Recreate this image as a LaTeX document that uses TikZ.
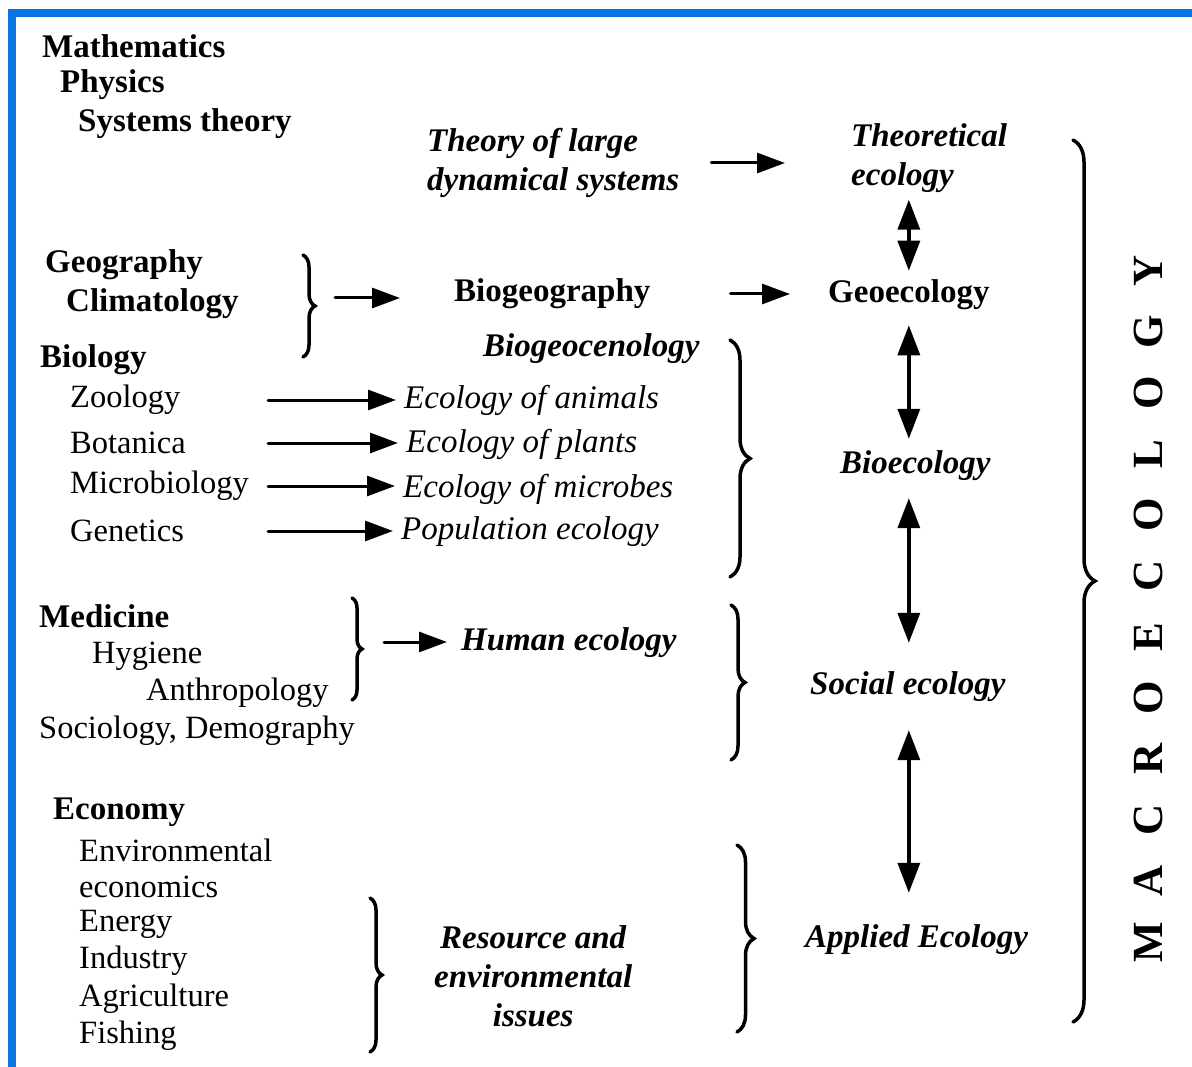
\documentclass[tikz,border=0pt]{standalone}
\usepackage{fontspec}
\setmainfont{Liberation Serif}
\usetikzlibrary{arrows.meta,decorations.pathreplacing}
\definecolor{frameblue}{RGB}{10,118,228}

\begin{document}
\begin{tikzpicture}[x=1pt,y=-1pt,line cap=round,
  every node/.style={inner sep=0pt,anchor=west},
  field/.style={yshift=-3pt,font=\fontsize{32.5}{39}\selectfont},
  science/.style={yshift=-3pt,font=\fontsize{33}{39}\selectfont\bfseries},
  branch/.style={yshift=-3pt,font=\fontsize{33}{39}\selectfont\itshape},
  level/.style={yshift=-3pt,font=\fontsize{33}{39}\selectfont\bfseries\itshape},
  arr/.style={line width=3pt,-{Triangle[length=28pt,width=20pt]}},
  darr/.style={line width=3.5pt,{Triangle[length=30pt,width=22pt]}-{Triangle[length=30pt,width=22pt]}},
  brc/.style={line width=3.5pt,decorate,decoration={brace,amplitude=#1}}]
  \useasboundingbox (0,0) rectangle (1192,1067);
  % frame
  \fill[frameblue] (8,9) rectangle (1192,17);
  \fill[frameblue] (8,9) rectangle (16,1067);

  % basic sciences, left column
  \node[science] (math) at (42,43) {Mathematics};
  \node[science] (phys) at (60,82) {Physics};
  \node[science] (sys) at (78,121) {Systems theory};
  \node[science] (geog) at (45,262) {Geography};
  \node[science] (clim) at (66,301) {Climatology};
  \node[science] (biol) at (40,357) {Biology};
  \node[field] (zoo) at (70,397) {Zoology};
  \node[field] (bot) at (70,440) {Botanica};
  \node[field] (micro) at (70,483) {Microbiology};
  \node[field] (gen) at (70,528) {Genetics};
  \node[science] (med) at (39,613) {Medicine};
  \node[field] (hyg) at (92,653) {Hygiene};
  \node[field] (anth) at (146,690) {Anthropology};
  \node[field] (soc) at (39,728) {Sociology, Demography};
  \node[science] (econ) at (53,809) {Economy};
  \node[field] (env) at (79,847) {Environmental};
  \node[field] (econs) at (79,884) {economics};
  \node[field] (energy) at (79,921) {Energy};
  \node[field] (ind) at (79,958) {Industry};
  \node[field] (agri) at (79,996) {Agriculture};
  \node[field] (fish) at (79,1033) {Fishing};

  % middle column
  \node[level,align=left] (theory) at (427,160) {Theory of large\\dynamical systems};
  \node[science] (biogeog) at (454,291) {Biogeography};
  \node[level] (biogeoc) at (483,346) {Biogeocenology};
  \node[branch] (ecanim) at (404,397) {Ecology of animals};
  \node[branch] (ecplant) at (406,441) {Ecology of plants};
  \node[branch] (ecmicro) at (403,486) {Ecology of microbes};
  \node[branch] (popeco) at (401,529) {Population ecology};
  \node[level] (human) at (461,640) {Human ecology};
  \node[level,align=center] (resource) at (434,973) {Resource and\\environmental\\issues};

  % right column
  \node[level,align=left] (theo) at (851,155) {Theoretical\\ecology};
  \node[science] (geoeco) at (828,292) {Geoecology};
  \node[level] (bioeco) at (840,463) {Bioecology};
  \node[level] (social) at (810,684) {Social ecology};
  \node[level] (applied) at (805,937) {Applied Ecology};

  % braces
  \draw[brc=12pt] (303,255) -- (303,357);
  \coordinate (geotip) at (318,298);
  \draw[brc=20pt] (730,340) -- (730,577);
  \draw[brc=10pt] (352,598) -- (352,700);
  \coordinate (medtip) at (362,642);
  \draw[brc=14pt] (731,605) -- (731,760);
  \draw[brc=12pt] (370,898) -- (370,1052);
  \draw[brc=17pt] (737,845) -- (737,1032);
  \draw[brc=22pt] (1073,140) -- (1073,1022);

  % arrows
  \coordinate (col) at (268,0);
  \draw[arr,shorten <=32pt,shorten >=66pt] (theory.east) -- (theory.east -| theo.west);
  \draw[arr,shorten <=17pt,shorten >=54pt] (geotip) -- (geotip -| biogeog.west);
  \draw[arr,shorten <=80pt,shorten >=38pt] (biogeog.east) -- (biogeog.east -| geoeco.west);
  \foreach \a/\b in {zoo/ecanim,bot/ecplant,micro/ecmicro,gen/popeco}
    \draw[arr,shorten >=8pt] (\a.east -| col) -- (\a.east -| \b.west);
  \draw[arr,shorten <=22pt,shorten >=14pt] (medtip) -- (medtip -| human.west);

  \draw[darr,shorten <=7pt,shorten >=9pt] (theo.south -| geoeco.north) -- (geoeco.north);
  \draw[darr,shorten <=15pt,shorten >=12pt] (geoeco.south) -- (bioeco.north -| geoeco.south);
  \draw[darr,shorten <=17pt,shorten >=29pt] (bioeco.south -| geoeco.south) -- (social.north -| geoeco.south);
  \draw[darr,shorten <=28pt,shorten >=32pt] (social.south -| geoeco.south) -- (applied.north -| geoeco.south);

  % vertical title
  \foreach \l [count=\i from 0] in {M,A,C,R,O,E,C,O,L,O,G,Y}
    \node[anchor=center,rotate=90,font=\fontsize{43}{43}\selectfont\bfseries] (macro\i) at (1148,942-\i*61) {\l};
\end{tikzpicture}
\end{document}
